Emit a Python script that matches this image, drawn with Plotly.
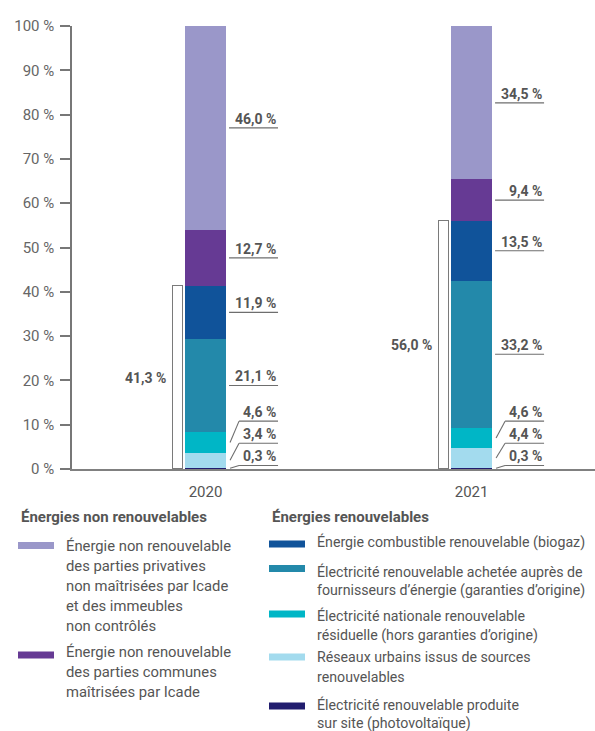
import plotly.graph_objects as go

# ---------------------------------------------------------------------------
# Data: energy mix shares (%) per year, stacked from the bottom upwards
# ---------------------------------------------------------------------------
years = ["2020", "2021"]
x_pos = [0, 1]

pv_on_site = [0.3, 0.3]          # Électricité renouvelable produite sur site
urban_networks = [3.4, 4.4]      # Réseaux urbains issus de sources renouvelables
national_residual = [4.6, 4.6]   # Électricité nationale renouvelable résiduelle
purchased_green = [21.1, 33.2]   # Électricité renouvelable achetée (garanties d'origine)
biogas = [11.9, 13.5]            # Énergie combustible renouvelable (biogaz)
common_nonrenew = [12.7, 9.4]    # Non renouvelable, parties communes
private_nonrenew = [46.0, 34.5]  # Non renouvelable, parties privatives

y_ticks = [0, 10, 20, 30, 40, 50, 60, 70, 80, 90, 100]

renewable_series = [pv_on_site, urban_networks, national_residual, purchased_green, biogas]
renewable_total = [round(sum(s[i] for s in renewable_series), 1) for i in range(len(years))]

series = [
    (pv_on_site, "#211d6e"),
    (urban_networks, "#a3dbee"),
    (national_residual, "#00b6c6"),
    (purchased_green, "#2389aa"),
    (biogas, "#10539a"),
    (common_nonrenew, "#663a94"),
    (private_nonrenew, "#9a97c9"),
]

# ---------------------------------------------------------------------------
# Layout geometry (pixels)
# ---------------------------------------------------------------------------
W, H = 595, 731
M_L, M_R, M_T, M_B = 72, 0, 26, 262
PLOT_W = W - M_L - M_R
PLOT_H = H - M_T - M_B
X_RANGE = [-0.502, 1.464]
PX = (X_RANGE[1] - X_RANGE[0]) / PLOT_W   # data units per pixel along x

BAR_W = 41 * PX
TEXT = "#555555"
LINE = "#6e6e6e"
FONT = "Roboto, 'Open Sans', sans-serif"


def fmt(v):
    return f"{v:.1f}".replace(".", ",") + " %"


def paper_x(px):
    return (px - M_L) / PLOT_W


def paper_y(py):
    return (H - M_B - py) / PLOT_H


fig = go.Figure()

for values, color in series:
    fig.add_trace(go.Bar(
        x=x_pos, y=values, width=BAR_W,
        marker=dict(color=color, line=dict(width=0)),
        hoverinfo="skip", showlegend=False,
    ))

# renewable share bracket, drawn as a thin outlined bar left of each stack
fig.add_trace(go.Bar(
    x=[x - 0.104 for x in x_pos], y=renewable_total, width=10.4 * PX,
    marker=dict(color="white", line=dict(color="#7a7a7a", width=1)),
    hoverinfo="skip", showlegend=False,
))

annotations = []
shapes = []

# renewable totals
for i, x in enumerate(x_pos):
    annotations.append(dict(
        x=x - 0.104 - 5.2 * PX, y=renewable_total[i] / 2, xref="x", yref="y",
        text=f"<b>{fmt(renewable_total[i])}</b>", showarrow=False,
        xanchor="right", yanchor="middle", xshift=-5,
        font=dict(family=FONT, size=14, color=TEXT),
    ))

# segment value labels with underline / leader lines
MIN_GAP = 5.0
for i, x in enumerate(x_pos):
    x_right = x + BAR_W / 2
    base = 0.0
    prev_label = None
    for values, _ in series:
        v = values[i]
        mid = base + v / 2
        base += v
        if prev_label is None:
            label_y = max(mid, 0.8)
        else:
            label_y = max(mid, prev_label + MIN_GAP)
        prev_label = label_y
        x_end = x_right + 52 * PX
        if abs(label_y - mid) > 0.3:
            x_knee = x_right + 13 * PX
            shapes.append(dict(type="line", xref="x", yref="y",
                               x0=x_right + 4 * PX, y0=mid, x1=x_knee, y1=label_y,
                               line=dict(color=LINE, width=1.1)))
            shapes.append(dict(type="line", xref="x", yref="y",
                               x0=x_knee, y0=label_y, x1=x_end, y1=label_y,
                               line=dict(color=LINE, width=1.1)))
        else:
            shapes.append(dict(type="line", xref="x", yref="y",
                               x0=x_right + 3 * PX, y0=label_y, x1=x_end, y1=label_y,
                               line=dict(color=LINE, width=1.1)))
        annotations.append(dict(
            x=x_end, y=label_y, xref="x", yref="y",
            text=f"<b>{fmt(v)}</b>", showarrow=False,
            xanchor="right", yanchor="bottom", yshift=-1,
            font=dict(family=FONT, size=14, color=TEXT),
        ))

# ---------------------------------------------------------------------------
# Custom legend below the chart
# ---------------------------------------------------------------------------
legend_headers = [
    ("Énergies non renouvelables", 19, 517),
    ("Énergies renouvelables", 270, 517),
]
for text, px, py in legend_headers:
    annotations.append(dict(
        x=paper_x(px), y=paper_y(py), xref="paper", yref="paper",
        text=f"<b>{text}</b>", showarrow=False, xanchor="left", yanchor="middle",
        font=dict(family=FONT, size=15, color=TEXT),
    ))

legend_items = [
    # (color, swatch x0, swatch center y, text x, font size, [(line, y)])
    ("#9a97c9", 18, 545.5, 64, 14.8, [
        ("Énergie non renouvelable", 546), ("des parties privatives", 566),
        ("non maîtrisées par Icade", 586), ("et des immeubles", 606),
        ("non contrôlés", 626)]),
    ("#663a94", 18, 655, 64, 14.8, [
        ("Énergie non renouvelable", 652), ("des parties communes", 672),
        ("maîtrisées par Icade", 692)]),
    ("#10539a", 269, 544, 315, 14.2, [
        ("Énergie combustible renouvelable (biogaz)", 542)]),
    ("#2389aa", 269, 568.5, 315, 14.2, [
        ("Électricité renouvelable achetée auprès de", 571),
        ("fournisseurs d’énergie (garanties d’origine)", 590)]),
    ("#00b6c6", 269, 614, 315, 14.2, [
        ("Électricité nationale renouvelable", 615),
        ("résiduelle (hors garanties d’origine)", 635)]),
    ("#a3dbee", 269, 657, 315, 14.2, [
        ("Réseaux urbains issus de sources", 657),
        ("renouvelables", 677)]),
    ("#211d6e", 269, 706, 315, 14.2, [
        ("Électricité renouvelable produite", 704),
        ("sur site (photovoltaïque)", 723)]),
]
for color, sx, sy, tx, fsize, lines in legend_items:
    shapes.append(dict(type="rect", xref="paper", yref="paper",
                       x0=paper_x(sx), x1=paper_x(sx + 36),
                       y0=paper_y(sy - 3.5), y1=paper_y(sy + 3.5),
                       fillcolor=color, line=dict(width=0)))
    for text, ly in lines:
        annotations.append(dict(
            x=paper_x(tx), y=paper_y(ly), xref="paper", yref="paper",
            text=text, showarrow=False, xanchor="left", yanchor="middle",
            font=dict(family=FONT, size=fsize, color=TEXT),
        ))

fig.update_layout(
    width=W, height=H, autosize=False,
    margin=dict(l=M_L, r=M_R, t=M_T, b=M_B, pad=0),
    paper_bgcolor="white", plot_bgcolor="white",
    barmode="stack", bargap=0, showlegend=False,
    font=dict(family=FONT, color=TEXT),
    annotations=annotations, shapes=shapes,
    xaxis=dict(
        range=X_RANGE, tickmode="array", tickvals=x_pos, ticktext=years,
        showline=True, linecolor="#808080", linewidth=2,
        ticks="", showgrid=False, zeroline=False, ticklabelstandoff=8,
        tickfont=dict(family=FONT, size=15, color=TEXT),
    ),
    yaxis=dict(
        range=[0, 100], tickmode="array", tickvals=y_ticks,
        ticktext=[f"{v} %" for v in y_ticks],
        ticks="outside", ticklen=10, tickwidth=1.5, tickcolor="#777777",
        showline=True, linecolor="#777777", linewidth=1.5,
        showgrid=False, zeroline=False, ticklabelstandoff=3,
        tickfont=dict(family=FONT, size=15, color="#666666"),
    ),
)

fig.write_html("out.html")
